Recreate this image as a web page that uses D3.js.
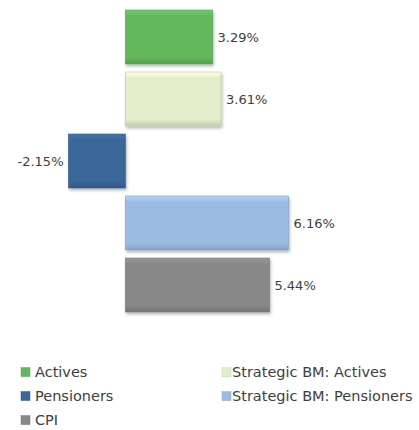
<!DOCTYPE html>
<html><head><meta charset="utf-8">
<script src="https://cdn.jsdelivr.net/npm/d3@7"></script>
<style>html,body{margin:0;padding:0;background:#fff}svg{display:block}</style>
</head><body>
<svg id="chart" width="419" height="430"></svg>
<script>
const series = ["Actives","Strategic BM: Actives","Pensioners","Strategic BM: Pensioners","CPI"];
const values = [3.29, 3.61, -2.15, 6.16, 5.44];
const colors = ["#62b85a","#e0efc9","#3b6699","#9cbbe3","#878787"];
const labels = values.map(v => v.toFixed(2) + "%");

const svg = d3.select("#chart");
const font = "'DejaVu Sans', sans-serif";

const x = d3.scaleLinear().domain([-2.15, 6.16]).range([68.5, 288.5]);
const y = d3.scaleBand().domain(series).range([6, 316]).paddingInner(0.13).paddingOuter(0.065);

const defs = svg.append("defs");
const f = defs.append("filter").attr("id","sh").attr("x","-10%").attr("y","-10%").attr("width","130%").attr("height","140%");
f.append("feDropShadow").attr("dx",1).attr("dy",2).attr("stdDeviation",1.5).attr("flood-color","#000").attr("flood-opacity",0.3);
colors.forEach((c,i)=>{
  const g = defs.append("linearGradient").attr("id","g"+i).attr("x1",0).attr("y1",0).attr("x2",0).attr("y2",1);
  g.append("stop").attr("offset","0%").attr("stop-color",d3.color(c).brighter(0.35));
  g.append("stop").attr("offset","12%").attr("stop-color",c);
  g.append("stop").attr("offset","88%").attr("stop-color",c);
  g.append("stop").attr("offset","100%").attr("stop-color",d3.color(c).darker(0.4));
});

const bars = svg.append("g");
bars.selectAll("rect").data(series).join("rect")
  .attr("x",(d,i)=>x(Math.min(0,values[i])))
  .attr("y",d=>y(d))
  .attr("width",(d,i)=>Math.abs(x(values[i])-x(0)))
  .attr("height",y.bandwidth())
  .attr("fill",(d,i)=>"url(#g"+i+")")
  .attr("stroke",(d,i)=>d3.color(colors[i]).darker(0.5))
  .attr("stroke-width",0.6)
  .attr("filter","url(#sh)");

svg.append("g").selectAll("text").data(series).join("text")
  .attr("x",(d,i)=>values[i]>=0 ? x(values[i])+5 : x(values[i])-5)
  .attr("y",d=>y(d)+y.bandwidth()/2)
  .attr("dy","0.35em")
  .attr("text-anchor",(d,i)=>values[i]>=0?"start":"end")
  .attr("font-family",font).attr("font-size",13).attr("fill","#404040")
  .text((d,i)=>labels[i]);

const legPos = [[21,372],[222,372],[21,396],[222,396],[21,420]];
const leg = svg.append("g").selectAll("g").data(series).join("g")
  .attr("transform",(d,i)=>`translate(${legPos[i][0]},${legPos[i][1]})`);
leg.append("rect").attr("x",0).attr("y",-4.5).attr("width",9).attr("height",9)
  .attr("fill",(d,i)=>"url(#g"+i+")")
  .attr("stroke",(d,i)=>d3.color(colors[i]).darker(0.3)).attr("stroke-width",0.5);
leg.append("text").attr("x",(d,i)=>i%2===0?14:10).attr("dy","0.35em")
  .attr("font-family",font).attr("font-size",14.5).attr("fill","#404040")
  .text(d=>d);
</script>
</body></html>
